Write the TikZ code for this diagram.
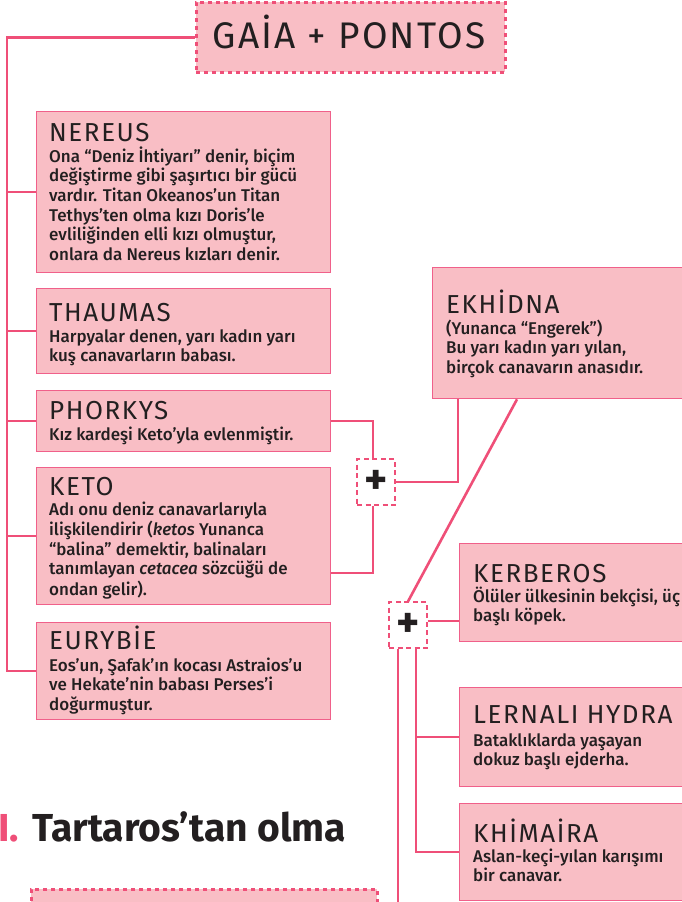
\documentclass[tikz,border=0pt]{standalone}
\usepackage{fontspec}
\IfFontExistsTF{Fira Sans Medium}
  {\setmainfont{Fira Sans}[UprightFont=* Medium, ItalicFont=* Medium Italic, BoldFont=* Bold]}
  {\setmainfont{Fira Sans}}
\newfontfamily\headfont{Fira Sans}[LetterSpace=6]
\usetikzlibrary{positioning}
\definecolor{cardfill}{HTML}{F9BEC5}
\definecolor{cardline}{HTML}{F0608A}
\definecolor{linkred}{HTML}{EF4F78}
\definecolor{inkdark}{HTML}{231F20}
\newcommand{\blurblines}[1]{\begin{tabular}[t]{@{}l@{}}#1\end{tabular}}

\begin{document}
\begin{tikzpicture}[x=1pt, y=-1pt,
  card/.style={rectangle, draw=cardline, fill=cardfill, line width=1.3pt, anchor=north west, inner sep=0pt},
  link/.style={draw=linkred, line width=2.6pt},
  plusbox/.style={rectangle, draw=linkred, dash pattern=on 5pt off 3.5pt, line width=1.2pt, minimum width=38pt, minimum height=46pt, inner sep=0pt, font=\bfseries\fontsize{44}{44}\selectfont, text=inkdark},
  bigbox/.style={rectangle, draw=linkred, fill=cardfill, dash pattern=on 4pt off 4pt, line width=2.6pt, anchor=north west, inner sep=0pt},
  heading/.style={anchor=base west, inner sep=0pt, font=\headfont\fontsize{26}{26}\selectfont, text=inkdark},
  blurb/.style={anchor=base west, inner sep=0pt, font=\fontsize{17}{19.7}\selectfont, text=inkdark}]
\useasboundingbox (0,0) rectangle (682,902);
\clip (0,0) rectangle (682,902);
%%%%%%%%%%%%%%%%%%%%%%%%%%%%%%% Gaia + Pontos
\node[bigbox, minimum width=309pt, minimum height=70pt](gaia) at (195,1){};
\node[anchor=base, inner sep=0pt, font=\headfont\fontsize{37}{40}\selectfont, text=inkdark](gaiaText) at (349,48){GAİA + PONTOS};
%%%%%%%%%%%%%%%%%%%%%%%%%%%%%%% children, left column
\node[card, minimum width=294pt, minimum height=161pt](nereus) at (36,111){};
\node[heading](nereusHead) at (49,141){NEREUS};
\node[blurb](nereusText) at (49,162){\blurblines{Ona “Deniz İhtiyarı” denir, biçim\\değiştirme gibi şaşırtıcı bir gücü\\vardır. Titan Okeanos’un Titan\\Tethys’ten olma kızı Doris’le\\evliliğinden elli kızı olmuştur,\\onlara da Nereus kızları denir.}};
\node[card, minimum width=294pt, minimum height=85pt](thaumas) at (36,288){};
\node[heading](thaumasHead) at (49,321){THAUMAS};
\node[blurb](thaumasText) at (49,342){\blurblines{Harpyalar denen, yarı kadın yarı\\kuş canavarların babası.}};
\node[card, minimum width=294pt, minimum height=61pt](phorkys) at (36,390){};
\node[heading](phorkysHead) at (49,419){PHORKYS};
\node[blurb](phorkysText) at (49,440){\blurblines{Kız kardeşi Keto’yla evlenmiştir.}};
\node[card, minimum width=294pt, minimum height=137pt](keto) at (36,467){};
\node[heading](ketoHead) at (49,495){KETO};
\node[blurb](ketoText) at (49,515){\blurblines{Adı onu deniz canavarlarıyla\\ilişkilendirir (\textit{ketos} Yunanca\\“balina” demektir, balinaları\\tanımlayan \textit{cetacea} sözcüğü de\\ondan gelir).}};
\node[card, minimum width=294pt, minimum height=97pt](eurybie) at (36,622){};
\node[heading](eurybieHead) at (49,649){EURYBİE};
\node[blurb](eurybieText) at (49,671){\blurblines{Eos’un, Şafak’ın kocası Astraios’u\\ve Hekate’nin babası Perses’i\\doğurmuştur.}};
\draw[link] (gaia.west) -| ([xshift=-29pt]eurybie.west) -- (eurybie.west);
\foreach \kid in {nereus,thaumas,phorkys,keto}
  \draw[link] (\kid.west) -- ++(-29,0);
%%%%%%%%%%%%%%%%%%%%%%%%%%%%%%% Phorkys + Keto
\node[plusbox](plusA) at (376,482){+};
\draw[link] (phorkys.east) -| ([xshift=-3pt]plusA.north);
\draw[link] ([yshift=-37pt]keto.east) -| ([xshift=-3pt]plusA.south);
\node[card, minimum width=270pt, minimum height=131pt](ekhidna) at (432,267){};
\node[heading](ekhidnaHead) at (446,313){EKHİDNA};
\node[blurb](ekhidnaText) at (446,334){\blurblines{(Yunanca “Engerek”)\\Bu yarı kadın yarı yılan,\\birçok canavarın anasıdır.}};
\draw[link] (plusA.east) -| ([xshift=26pt]ekhidna.south west);
%%%%%%%%%%%%%%%%%%%%%%%%%%%%%%% Ekhidna + Typhon
\node[plusbox](plusB) at (408,625){+};
\draw[link] ([xshift=85pt]ekhidna.south west) -- (plusB.north);
\node[card, minimum width=250pt, minimum height=98pt](kerberos) at (459,543){};
\node[heading](kerberosHead) at (473,582){KERBEROS};
\node[blurb](kerberosText) at (473,602){\blurblines{Ölüler ülkesinin bekçisi, üç\\başlı köpek.}};
\draw[link] ([yshift=4pt]plusB.east) -- ([yshift=4pt]plusB.east -| kerberos.west);
\node[card, minimum width=250pt, minimum height=99pt](hydra) at (459,687){};
\node[heading](hydraHead) at (473,723){LERNALI HYDRA};
\node[blurb](hydraText) at (473,746){\blurblines{Bataklıklarda yaşayan\\dokuz başlı ejderha.}};
\node[card, minimum width=250pt, minimum height=97pt](khimaira) at (459,803){};
\node[heading](khimairaHead) at (473,842){KHİMAİRA};
\node[blurb](khimairaText) at (473,862){\blurblines{Aslan-keçi-yılan karışımı\\bir canavar.}};
\draw[link] ([xshift=8pt]plusB.south) |- (khimaira.west);
\draw[link] ([xshift=8pt]plusB.south |- hydra.west) -- (hydra.west);
\coordinate (downEnd) at (398,930);
\draw[link] ([xshift=-10pt]plusB.south) -- (downEnd);
%%%%%%%%%%%%%%%%%%%%%%%%%%%%%%% Tartaros
\node[anchor=base west, inner sep=0pt, font=\bfseries\fontsize{39}{42}\selectfont, text=linkred](tartNum) at (-2,841){I.};
\node[anchor=base west, inner sep=0pt, font=\bfseries\fontsize{39}{42}\selectfont, text=inkdark](tartHead) at (32,841){Tartaros’tan olma};
\node[bigbox, minimum width=346pt, minimum height=60pt](tartaros) at (30,888){};
\end{tikzpicture}
\end{document}
